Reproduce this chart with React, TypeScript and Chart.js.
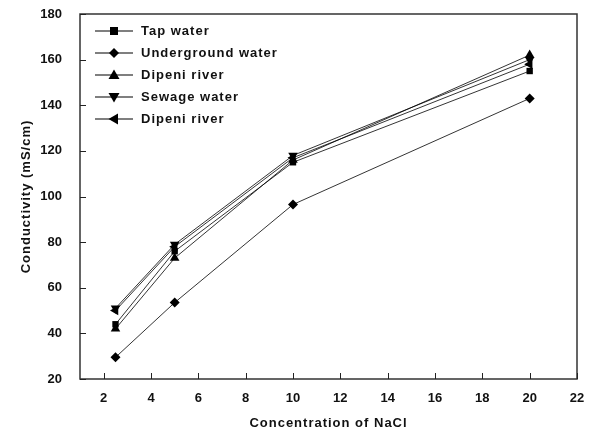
import React, { useEffect, useRef } from "react";
import { Chart, registerables } from "chart.js";

Chart.register(...registerables);

const concentrations = [2.5, 5, 10, 20];
const seriesLabels = ["Tap water", "Underground water", "Dipeni river", "Sewage water", "Dipeni river"];
const tapWater = [44, 76, 115, 155];
const undergroundWater = [29.5, 53.5, 96.5, 143];
const dipeniRiver = [42, 73, 116, 162];
const sewageWater = [51, 79, 118, 160];
const dipeniRiver2 = [50, 78, 117, 158];
const xTicks = [2, 4, 6, 8, 10, 12, 14, 16, 18, 20, 22];
const yTicks = [20, 40, 60, 80, 100, 120, 140, 160, 180];
const xTitle = "Concentration of NaCl";
const yTitle = "Conductivity (mS/cm)";

const FONT = "'Liberation Sans', Arial, sans-serif";

function drawMarker(ctx: CanvasRenderingContext2D, style: string, rot: number, x: number, y: number, r: number) {
  ctx.save();
  ctx.translate(x, y);
  ctx.rotate((rot * Math.PI) / 180);
  ctx.beginPath();
  if (style === "rect") {
    ctx.rect(-r * 0.8, -r * 0.8, r * 1.6, r * 1.6);
  } else if (style === "rectRot") {
    ctx.moveTo(0, -r);
    ctx.lineTo(r, 0);
    ctx.lineTo(0, r);
    ctx.lineTo(-r, 0);
    ctx.closePath();
  } else {
    ctx.moveTo(0, -r * 1.1);
    ctx.lineTo(r * 1.1, r * 0.8);
    ctx.lineTo(-r * 1.1, r * 0.8);
    ctx.closePath();
  }
  ctx.fillStyle = "#000";
  ctx.fill();
  ctx.restore();
}

const frameAndTicks = {
  id: "frameAndTicks",
  afterDraw(chart: any) {
    const { ctx, chartArea } = chart;
    const xs = chart.scales.x;
    const ys = chart.scales.y;
    ctx.save();
    ctx.strokeStyle = "#333";
    ctx.lineWidth = 1.5;
    ctx.strokeRect(chartArea.left, chartArea.top, chartArea.right - chartArea.left, chartArea.bottom - chartArea.top);
    ctx.lineWidth = 1;
    ctx.strokeStyle = "#222";
    ctx.beginPath();
    xTicks.forEach((t) => {
      const px = Math.round(xs.getPixelForValue(t)) + 0.5;
      ctx.moveTo(px, chartArea.bottom);
      ctx.lineTo(px, chartArea.bottom - 6);
    });
    yTicks.forEach((t) => {
      const py = Math.round(ys.getPixelForValue(t)) + 0.5;
      ctx.moveTo(chartArea.left, py);
      ctx.lineTo(chartArea.left + 6, py);
    });
    ctx.stroke();

    // axis titles
    ctx.fillStyle = "#111";
    ctx.font = `bold 13px ${FONT}`;
    (ctx as any).letterSpacing = "1px";
    ctx.textAlign = "center";
    ctx.textBaseline = "middle";
    ctx.fillText(xTitle, (chartArea.left + chartArea.right) / 2, 423);
    ctx.save();
    ctx.translate(26, (chartArea.top + chartArea.bottom) / 2);
    ctx.rotate(-Math.PI / 2);
    ctx.fillText(yTitle, 0, 0);
    ctx.restore();

    // legend
    const lx0 = 95;
    const lx1 = 133;
    const tx = 141;
    let y = 31;
    chart.data.datasets.forEach((ds: any) => {
      ctx.strokeStyle = "#000";
      ctx.lineWidth = 1.2;
      ctx.beginPath();
      ctx.moveTo(lx0, y);
      ctx.lineTo(lx1, y);
      ctx.stroke();
      drawMarker(ctx, ds.pointStyle, ds.pointRotation || 0, (lx0 + lx1) / 2, y, 5);
      ctx.fillStyle = "#111";
      ctx.font = `bold 13px ${FONT}`;
      ctx.textBaseline = "middle";
      ctx.textAlign = "left";
      (ctx as any).letterSpacing = "1px";
      ctx.fillText(ds.label, tx, y);
      y += 22;
    });
    (ctx as any).letterSpacing = "0px";
    ctx.restore();
  },
};

export default function App() {
  const ref = useRef<HTMLCanvasElement>(null);
  useEffect(() => {
    document.body.style.margin = "0";
    const toPts = (vals: number[]) => vals.map((v, i) => ({ x: concentrations[i], y: v }));
    const styles = ["rect", "rectRot", "triangle", "triangle", "triangle"];
    const rotations = [0, 0, 0, 180, -90];
    const radii = [4.5, 5, 5.5, 5.5, 5.5];
    const all = [tapWater, undergroundWater, dipeniRiver, sewageWater, dipeniRiver2];
    const chart = new Chart(ref.current!, {
      type: "scatter",
      data: {
        datasets: all.map((vals, i) => ({
          label: seriesLabels[i],
          data: toPts(vals),
          showLine: true,
          borderColor: "#000",
          backgroundColor: "#000",
          borderWidth: 0.8,
          pointStyle: styles[i] as any,
          pointRotation: rotations[i],
          pointRadius: radii[i],
          pointBorderWidth: 0,
          pointBackgroundColor: "#000",
        })),
      },
      options: {
        animation: false,
        responsive: false,
        layout: { padding: { left: 0, top: 14, right: 19, bottom: 0 } },
        plugins: { legend: { display: false }, tooltip: { enabled: false } },
        scales: {
          x: {
            type: "linear",
            min: 1,
            max: 22,
            afterBuildTicks: (s: any) => {
              s.ticks = xTicks.map((v) => ({ value: v }));
            },
            afterFit: (s: any) => {
              s.height = 57;
              s.paddingLeft = 0;
              s.paddingRight = 0;
            },
            grid: { display: false },
            border: { display: false },
            ticks: { color: "#111", font: { family: FONT, size: 13, weight: "bold" }, padding: 4, maxRotation: 0 },
            title: { display: false },
          },
          y: {
            type: "linear",
            min: 20,
            max: 180,
            afterBuildTicks: (s: any) => {
              s.ticks = yTicks.map((v) => ({ value: v }));
            },
            afterFit: (s: any) => {
              s.width = 80;
              s.paddingTop = 0;
              s.paddingBottom = 0;
            },
            grid: { display: false },
            border: { display: false },
            ticks: { color: "#111", font: { family: FONT, size: 13, weight: "bold" }, padding: 10 },
            title: { display: false },
          },
        },
      },
      plugins: [frameAndTicks],
    });
    return () => chart.destroy();
  }, []);
  return <canvas ref={ref} width={596} height={436} style={{ display: "block" }} />;
}
